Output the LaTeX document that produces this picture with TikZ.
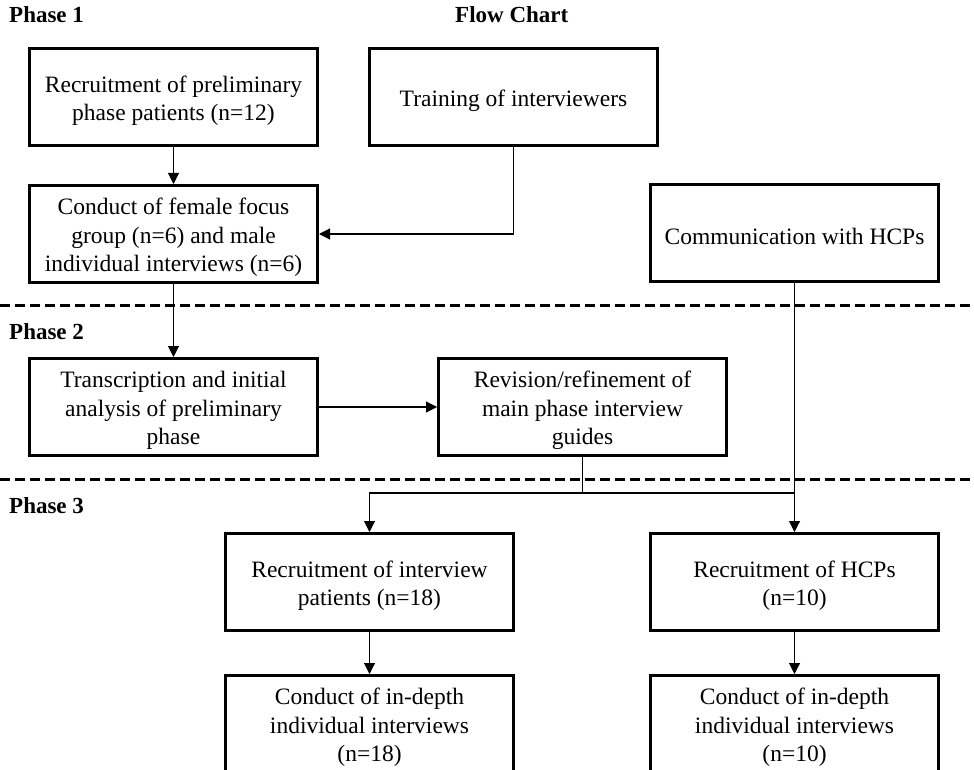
\documentclass[tikz,border=0pt]{standalone}
\usepackage{fontspec}
\setmainfont{Liberation Serif}
\usetikzlibrary{arrows.meta}
\newcommand\flowbox[3]{%
  \node[box] (#1) at (#2) {};
  \node[boxtxt] (#1t) at ([yshift=-3.5pt]#1.center) {#3};}
\begin{document}
\begin{tikzpicture}[x=1pt,y=-1pt,
  box/.style={draw, line width=3pt, minimum width=288pt, minimum height=97pt, inner sep=0pt},
  boxtxt/.style={align=center, font=\fontsize{23.5}{28.5}\selectfont, inner sep=0pt},
  lbl/.style={anchor=base west, font=\fontsize{23}{27}\selectfont\bfseries, inner sep=0pt},
  conn/.style={line width=1.1pt},
  arr/.style={conn, -{Triangle[length=11pt,width=11pt]}},
  sep/.style={line width=3pt, dash pattern=on 10pt off 5pt}]
\useasboundingbox (0,0) rectangle (974,770);

\node[lbl] (p1) at (9,23) {Phase 1};
\node[lbl] (fc) at (455,23) {Flow Chart};
\node[lbl] (p2) at (9,339) {Phase 2};
\node[lbl] (p3) at (9,513) {Phase 3};

\flowbox{A}{173.5,97}{Recruitment of preliminary\\phase patients (n=12)}
\flowbox{B}{513.5,97}{Training of interviewers}
\flowbox{C}{173.5,234}{Conduct of female focus\\group (n=6) and male\\individual interviews (n=6)}
\flowbox{D}{794.5,233}{Communication with HCPs}
\flowbox{E}{173.5,407}{Transcription and initial\\analysis of preliminary\\phase}
\flowbox{F}{582.5,407}{Revision/refinement of\\main phase interview\\guides}
\flowbox{G}{369.5,582}{Recruitment of interview\\patients (n=18)}
\flowbox{H}{794.5,582}{Recruitment of HCPs\\(n=10)}
\flowbox{I}{369.5,724}{Conduct of in-depth\\individual interviews\\(n=18)}
\flowbox{J}{794.5,724}{Conduct of in-depth\\individual interviews\\(n=10)}

\draw[sep] (0,305) -- (974,305);
\draw[sep] (0,479) -- (974,479);

\draw[arr] (A) -- (C);
\draw[arr] (B.south) |- (C.east);
\draw[arr] (C) -- (E);
\draw[arr] (E) -- (F);
\draw[arr] (D) -- (H);
\coordinate (j) at (582.5,493);
\draw[conn] (F.south) -- (j);
\draw[arr] (j) -| (G.north);
\draw[conn] (j) -- (D.south |- j);
\draw[arr] (G) -- (I);
\draw[arr] (H) -- (J);
\end{tikzpicture}
\end{document}
